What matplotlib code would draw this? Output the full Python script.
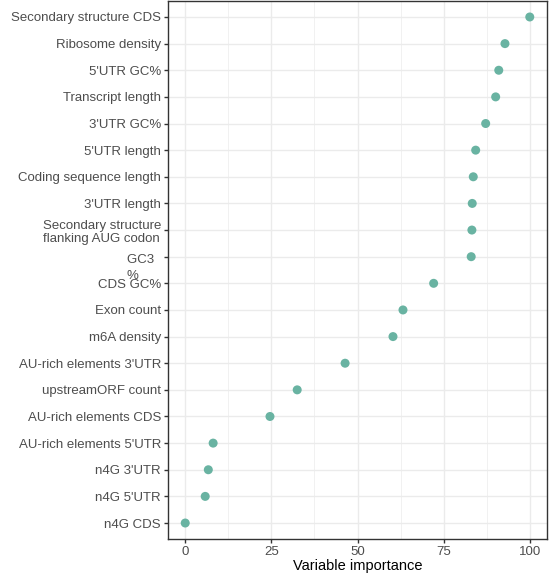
import matplotlib.pyplot as plt
from matplotlib.ticker import MultipleLocator
from matplotlib.transforms import ScaledTranslation

plt.rcParams['font.family'] = ['Liberation Sans', 'DejaVu Sans']

# features, top to bottom, with their importance
features = ['Secondary structure CDS', 'Ribosome density', "5'UTR GC%", 'Transcript length',
            "3'UTR GC%", "5'UTR length", 'Coding sequence length', "3'UTR length",
            'Secondary structure\nflanking AUG codon', 'GC3  \n%', 'CDS GC%', 'Exon count',
            'm6A density', "AU-rich elements 3'UTR", 'upstreamORF count', 'AU-rich elements CDS',
            "AU-rich elements 5'UTR", "n4G 3'UTR", "n4G 5'UTR", 'n4G CDS']
importance = [100, 92.8, 91.0, 90.1, 87.2, 84.3, 83.6, 83.3, 83.2, 83.0,
              72.1, 63.2, 60.3, 46.4, 32.5, 24.6, 8.1, 6.7, 5.8, 0]

# plot from the bottom up
features = features[::-1]
importance = importance[::-1]
ypos = list(range(1, len(features) + 1))

fig = plt.figure(figsize=(5.56, 5.79), dpi=100)
ax = fig.add_axes([168 / 556, 1 - 539 / 579, 379 / 556, 538 / 579])

ax.scatter(importance, ypos, s=42, color='#69b3a2', edgecolor='none', zorder=3)

ax.set_xlim(-5, 105)
ax.set_ylim(0.4, len(features) + 0.6)
ax.xaxis.set_major_locator(MultipleLocator(25))
ax.xaxis.set_minor_locator(MultipleLocator(12.5))
ax.set_yticks(ypos)
ax.set_yticklabels(features, ma='left', linespacing=1.15)

ax.grid(which='major', color='#EBEBEB', linewidth=1.0)
ax.grid(which='minor', axis='x', color='#EBEBEB', linewidth=0.5)
ax.set_axisbelow(True)
ax.tick_params(which='minor', length=0)
ax.tick_params(which='major', length=3, width=1.0, color='#333333',
               labelcolor='#4D4D4D', labelsize=9.5, pad=2)
for s in ax.spines.values():
    s.set_color('#333333')
    s.set_linewidth(1.0)

# the GC3 label sits with its first line on the tick and "%" below it
for lab in ax.get_yticklabels():
    if lab.get_text().startswith('GC3'):
        lab.set_linespacing(1.4)
        lab.set_transform(lab.get_transform() + ScaledTranslation(0, -8 / 100, fig.dpi_scale_trans))

ax.set_xlabel('Variable importance', fontsize=10.5, labelpad=1)

fig.savefig('out.png', dpi=100)
